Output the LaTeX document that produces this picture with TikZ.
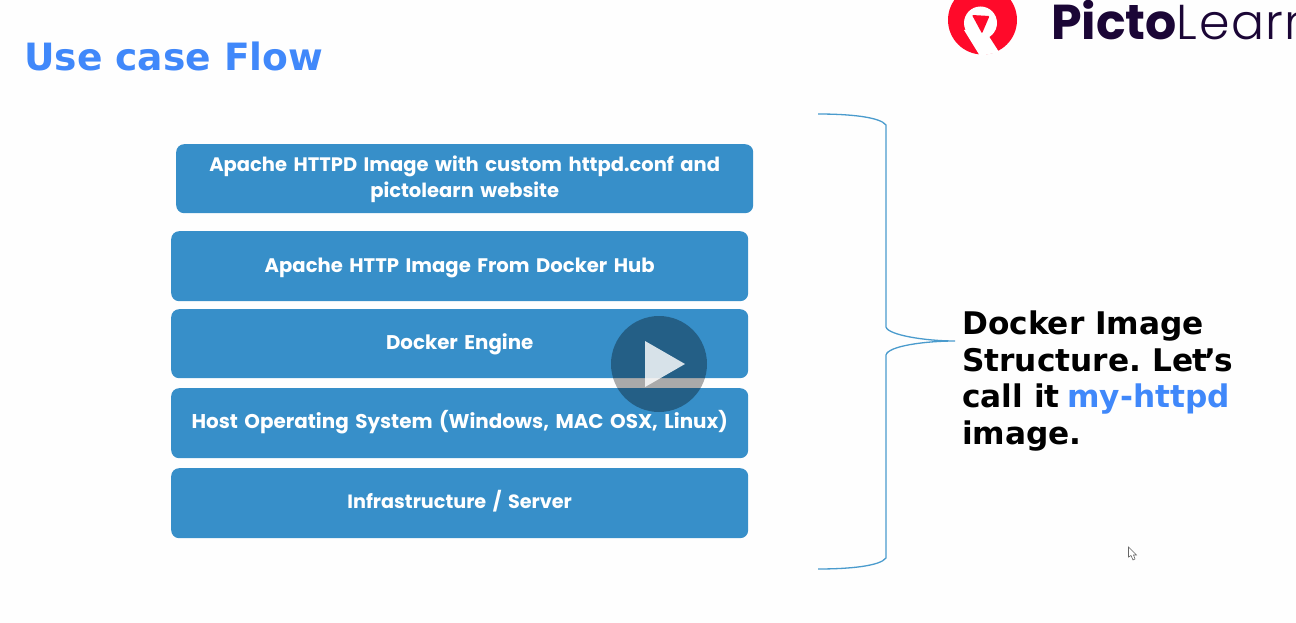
\documentclass[tikz,border=0pt]{standalone}
\usepackage{fontspec}
\setmainfont{DejaVu Sans}
\newfontfamily\boxfont{Poppins}
\newfontfamily\logofont{Poppins}
\newfontfamily\logolight[LetterSpace=3]{Poppins Light}
\definecolor{boxblue}{HTML}{378FC9}
\definecolor{bracecol}{HTML}{4A9BCD}
\definecolor{headblue}{HTML}{4088FA}
\definecolor{logored}{HTML}{FF0A2A}
\definecolor{logoink}{HTML}{1B0636}
\newcommand{\dn}[2]{\raisebox{#1pt}[12pt][4pt]{#2}}
\newcommand{\sz}[1]{\fontsize{#1}{26}\selectfont}
\tikzset{
  layerbox/.style={fill=boxblue,rounded corners=8pt,minimum width=577pt,inner sep=0pt,anchor=north west,
    text=white,align=center,font=\boxfont\bfseries\fontsize{19.5}{26}\selectfont,text width=570pt},
  bracel/.style={draw=bracecol,line width=1.3pt}
}
\begin{document}
\begin{tikzpicture}[x=1pt,y=-1pt]
\useasboundingbox (0,0) rectangle (1296,623);
\fill[white!99.5!black] (0,0) rectangle (1296,623);
\node[anchor=base west,inner sep=0pt,text=headblue,font=\bfseries\fontsize{37.6}{44}\selectfont] (title) at (24,71) {Use case Flow};

\node[layerbox,minimum height=69pt] (b1) at (176,144) {\dn{-2.3}{Apache HTTPD Image with custom httpd.conf and}\\\dn{-2.3}{pictolearn website}};
\node[layerbox,minimum height=70pt] (b2) at (171,231) {\sz{19.6}\dn{-1.8}{Apache HTTP Image From Docker Hub}};
\node[layerbox,minimum height=69pt] (b3) at (171,309) {\sz{19.8}\dn{-1.3}{Docker Engine}};
\node[layerbox,minimum height=70pt] (b4) at (171,388) {\sz{19.9}\dn{-1.3}{Host Operating System (Windows, MAC OSX, Linux)}};
\node[layerbox,minimum height=70pt] (b5) at (171,468) {\sz{19.2}\dn{-1.3}{Infrastructure / Server}};

\coordinate (btop) at (818,114);
\coordinate (bmid) at (955,341);
\coordinate (bbot) at (818,569);
\draw[bracel] (btop) .. controls (850,114) and (880,117) .. (886,125) -- (886,327)
  .. controls (888,335) and (925,341) .. (bmid)
  .. controls (925,341) and (888,346) .. (886,355) -- (886,558)
  .. controls (880,566) and (850,569) .. (bbot);

\node[anchor=north west,inner sep=0pt,align=left,text=black,font=\bfseries\fontsize{31.2}{36.6}\selectfont] (cap) at (962,310.5)
 {\frenchspacing Docker Image\\Structure.\kern-3pt{} Le\kern-1.5pt t\kern-2.5pt’\kern-1.5pt s\\call it\kern-3pt{} \textcolor{headblue}{my-httpd}\\image.};

% play button
\node[circle,fill=black,fill opacity=0.33,minimum size=96pt,inner sep=0pt] (play) at (659,364) {};
\fill[white,opacity=0.82] (645,341) -- (685,364) -- (645,387) -- cycle;

% logo
\begin{scope}
\clip (0,0) rectangle (1296,623);
\fill[logored] (982.5,20) circle (34.5);
\fill[white] (980.5,23) circle (16.5);
\fill[white] (964,30) -- (980,56) -- (999,52) -- (990,38) -- (985,30) -- cycle;
\fill[logored,rounded corners=1pt] (972,15) -- (989.5,16) -- (982,33.5) -- cycle;
\node[anchor=base west,inner sep=0pt,text=logoink,font=\logofont\fontsize{49}{49}\selectfont] (logo) at (1051,40) {\textbf{Picto}{\logolight Learn}};
\end{scope}

% cursor
\draw[black!60,fill=white,line width=0.6pt] (1128.5,547) -- (1128.5,557) -- (1131,555.5) -- (1133,560) -- (1135,559) -- (1133.5,555) -- (1136.5,555) -- cycle;
\end{tikzpicture}
\end{document}
